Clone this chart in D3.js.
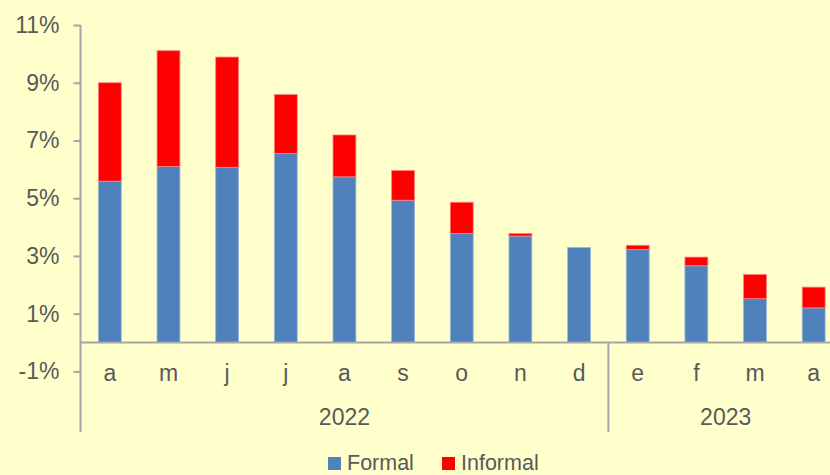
<!DOCTYPE html>
<html>
<head>
<meta charset="utf-8">
<script src="https://cdn.jsdelivr.net/npm/d3@7"></script>
<style>
  body { margin: 0; background: #FFFFCC; }
  svg { display: block; }
  text { font-family: "Liberation Sans", Arial, sans-serif; fill: #595959; }
</style>
</head>
<body>
<script>
// months (Apr 2022 - Apr 2023)
const months = ["a", "m", "j", "j", "a", "s", "o", "n", "d", "e", "f", "m", "a"];
const years = [
  { label: "2022", start: 0, end: 9 },
  { label: "2023", start: 9, end: 13 }
];
const formal   = [5.59, 6.10, 6.07, 6.55, 5.74, 4.93, 3.78, 3.69, 3.29, 3.22, 2.66, 1.52, 1.20];
const informal = [3.41, 4.01, 3.82, 2.04, 1.45, 1.03, 1.08, 0.09, 0.00, 0.15, 0.30, 0.84, 0.72];
const yTicks = [-1, 1, 3, 5, 7, 9, 11];

const width = 830, height = 475;
const margin = { top: 25, left: 80.5, right: -13, bottom: 103 };
const fontSize = "23px";

const svg = d3.select("body")
  .append("svg")
  .attr("width", width)
  .attr("height", height);

svg.append("rect")
  .attr("width", width)
  .attr("height", height)
  .attr("fill", "#FFFFCC");

// scales
const idx = months.map((d, i) => i);
let x = d3.scaleBand()
  .domain(idx)
  .range([margin.left, width - margin.right])
  .paddingInner(0.61)
  .paddingOuter(0.305);

let y = d3.scaleLinear()
  .domain([-1, 11])
  .range([371.4, 25]);

const axisColor = "#A6A6A6";

// Y axis
const yAxis = svg.append("g")
  .attr("transform", "translate(" + margin.left + ",0)")
  .call(d3.axisLeft(y).tickValues(yTicks).tickSize(7).tickPadding(14)
    .tickFormat(d => d + "%"));
yAxis.select(".domain").remove();
yAxis.selectAll(".tick line").attr("stroke", axisColor).attr("stroke-width", 2);
yAxis.selectAll(".tick text")
  .style("font-size", fontSize)
  .attr("fill", "#595959");

// left axis line extends into category area
svg.append("line")
  .attr("x1", margin.left).attr("x2", margin.left)
  .attr("y1", y(11)).attr("y2", 432)
  .attr("stroke", axisColor).attr("stroke-width", 2);

// stacked data
const data = idx.map(i => ({ i: i, formal: formal[i], informal: informal[i] }));
const stack = d3.stack().keys(["formal", "informal"]);
const series = stack(data);
const colors = { formal: "#4F81BD", informal: "#FF0000" };
const edges = { formal: "#9DB4D4", informal: "#FF8080" };

svg.append("g")
  .selectAll("g")
  .data(series)
  .enter()
  .append("g")
  .attr("fill", d => colors[d.key])
  .attr("stroke", d => edges[d.key])
  .attr("stroke-width", 0.8)
  .selectAll("rect")
  .data(d => d.filter(p => p[1] - p[0] > 0))
  .enter()
  .append("rect")
  .attr("x", d => x(d.data.i))
  .attr("width", x.bandwidth())
  .attr("y", d => y(d[1]))
  .attr("height", d => y(d[0]) - y(d[1]));

// X axis baseline at 0%
svg.append("line")
  .attr("x1", margin.left).attr("x2", width)
  .attr("y1", y(0)).attr("y2", y(0))
  .attr("stroke", axisColor).attr("stroke-width", 2);

// month labels
svg.append("g")
  .selectAll("text")
  .data(idx)
  .enter()
  .append("text")
  .attr("x", i => x(i) + x.bandwidth() / 2)
  .attr("y", 381)
  .attr("text-anchor", "middle")
  .style("font-size", fontSize)
  .text(i => months[i]);

// year groups
const step = x.step();
const bandStart = i => x(i) - x.paddingInner() * step / 2;
svg.append("g")
  .selectAll("line")
  .data(years.slice(1))
  .enter()
  .append("line")
  .attr("x1", d => bandStart(d.start)).attr("x2", d => bandStart(d.start))
  .attr("y1", y(0)).attr("y2", 432)
  .attr("stroke", axisColor).attr("stroke-width", 2);

svg.append("g")
  .selectAll("text")
  .data(years)
  .enter()
  .append("text")
  .attr("x", d => (bandStart(d.start) + bandStart(d.end - 1) + step) / 2)
  .attr("y", 425)
  .attr("text-anchor", "middle")
  .style("font-size", fontSize)
  .text(d => d.label);

// legend
const legendItems = [
  { key: "formal", label: "Formal", x: 328 },
  { key: "informal", label: "Informal", x: 442 }
];
const legend = svg.append("g");
legendItems.forEach(item => {
  legend.append("rect")
    .attr("x", item.x).attr("y", 457)
    .attr("width", 13).attr("height", 13)
    .attr("fill", colors[item.key]);
  legend.append("text")
    .attr("x", item.x + 19).attr("y", 470)
    .style("font-size", "21.5px")
    .text(item.label);
});
</script>
</body>
</html>
